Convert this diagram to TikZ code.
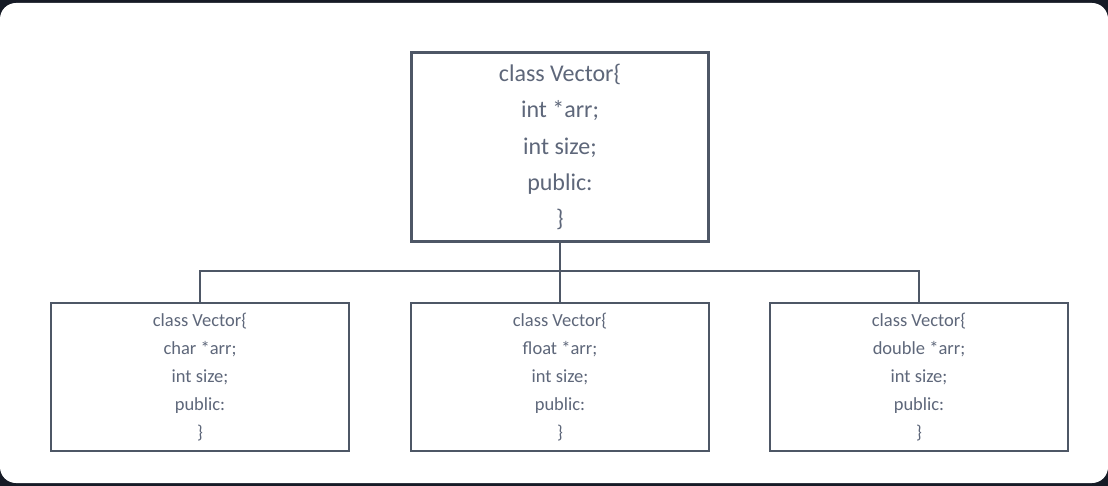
\documentclass[tikz,border=0pt]{standalone}
\usepackage{fontspec}
\setmainfont{Carlito}
\usepackage{xcolor}
\usepackage{tikz}
\usetikzlibrary{positioning,calc}
\definecolor{cFrame}{HTML}{161B26}
\definecolor{cLine}{HTML}{4E5766}
\definecolor{cText}{HTML}{5E677A}
\tikzset{
  clsbox/.style={draw=cLine, line width=2.4pt, fill=white, inner sep=0pt,
                 align=center, text=cText},
  basebox/.style={clsbox, minimum width=297pt, minimum height=189pt,
                  font=\fontsize{24}{36.2}\selectfont},
  specbox/.style={clsbox, minimum width=298pt, minimum height=148pt,
                  font=\fontsize{18.5}{28}\selectfont},
  link/.style={cLine, line width=2pt}
}

\begin{document}
\begin{tikzpicture}[x=1pt, y=-1pt]
% frame (units: px of the reference)
\useasboundingbox (0,0) rectangle (1108,486);
\fill[cFrame] (0,0) rectangle (1108,486);
\fill[white, rounded corners=16pt] (0,3) rectangle (1108,483);
% generic class
\node[basebox] (base) at (560,147) {class Vector\{\\int *arr;\\int size;\\public:\\\}};
% specialised classes
\node[specbox] (vchar)   at (200,377) {class Vector\{\\char *arr;\\int size;\\public:\\\}};
\node[specbox] (vfloat)  at (560,377) {class Vector\{\\float *arr;\\int size;\\public:\\\}};
\node[specbox] (vdouble) at (919,377) {class Vector\{\\double *arr;\\int size;\\public:\\\}};
% tree connectors
\coordinate (junc) at (base.south |- 0,271);
\draw[link] (base.south) -- (junc);
\draw[link] (vchar.north) |- (junc) -| (vdouble.north);
\draw[link] (junc) -- (vfloat.north);
\end{tikzpicture}
\end{document}
